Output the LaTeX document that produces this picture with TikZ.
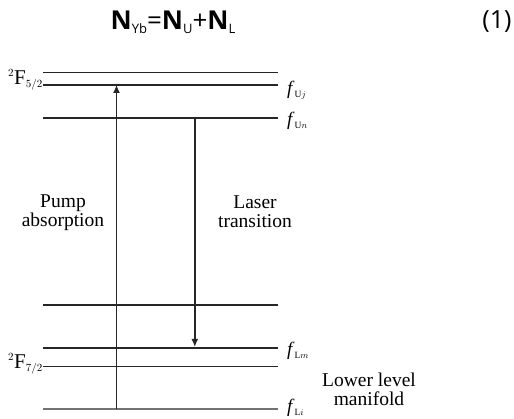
\documentclass[tikz,border=0pt]{standalone}
\usepackage{fontspec}
\setmainfont{Liberation Serif}
\newfontfamily\eqfont{Open Sans}
\usetikzlibrary{arrows.meta}
\tikzset{
  lvthin/.style={line width=1.1pt, draw=black!85},
  lvthick/.style={line width=2pt, draw=black!85},
  lvgray/.style={line width=2pt, draw=black!55},
  pumparrow/.style={line width=1.1pt, draw=black!85, -{Latex[length=8pt,width=7pt]}},
  laserarrow/.style={line width=1.6pt, draw=black!85, -{Latex[length=8pt,width=7pt]}},
  lbl/.style={font=\fontsize{19.5}{19}\selectfont, align=center, inner sep=0pt},
  flbl/.style={font=\fontsize{19}{20}\selectfont, anchor=west, inner sep=0pt},
}
\begin{document}
\begin{tikzpicture}[x=1pt,y=-1pt]
\useasboundingbox (0,0) rectangle (514,419);
% equation
\node[inner sep=0pt, anchor=center] (eq) at (173,22) {\eqfont\fontsize{26}{27}\selectfont\textbf{N}{\fontsize{13}{14}\selectfont\raisebox{-4pt}{Yb}}=\textbf{N}{\fontsize{13}{14}\selectfont\raisebox{-4pt}{U}}+\textbf{N}{\fontsize{13}{14}\selectfont\raisebox{-4pt}{L}}};
\node[inner sep=0pt] (eqn) at (497,22) {\eqfont\fontsize{25}{27}\selectfont (1)};
% level end points
\foreach \n/\y in {a/72.5,b/85,c/118,d/305,e/348,f/366.5,g/409}{
  \coordinate (\n1) at (43,\y);
  \coordinate (\n2) at (278,\y);
}
\draw[lvthin] (a1) -- (a2);
\draw[lvthick] (b1) -- (b2);
\draw[lvthick] (c1) -- (c2);
\draw[lvthick] (d1) -- (d2);
\draw[lvthick] (e1) -- (e2);
\draw[lvthin] (f1) -- (f2);
\draw[lvgray] (g1) -- (g2);
% arrows
\coordinate (pb) at (116.5,409);
\coordinate (pt) at (116.5,85);
\coordinate (lt) at (194.8,118);
\coordinate (lb) at (194.8,347);
\draw[pumparrow] (pb) -- (pt);
\draw[laserarrow] (lt) -- (lb);
% labels
\node[lbl] (pump) at (63,213) {Pump\\absorption};
\node[lbl] (laser) at (255,212) {Laser\\transition};
\node[lbl] (lower) at (369,389) {Lower level\\manifold};
\node[inner sep=0pt, anchor=west] (F52) at (8,80) {\fontsize{21}{22}\selectfont$^{\scriptscriptstyle 2}$F$_{\scriptscriptstyle 5/2}$};
\node[inner sep=0pt, anchor=west] (F72) at (8,364) {\fontsize{21}{22}\selectfont$^{\scriptscriptstyle 2}$F$_{\scriptscriptstyle 7/2}$};
\node[flbl] (fUj) at (287,90) {\textit{f}$_{\scriptscriptstyle\mathrm{U}j}$};
\node[flbl] (fUn) at (287,121) {\textit{f}$_{\scriptscriptstyle\mathrm{U}n}$};
\node[flbl] (fLm) at (287,351) {\textit{f}$_{\scriptscriptstyle\mathrm{L}m}$};
\node[flbl] (fLi) at (287,408) {\textit{f}$_{\scriptscriptstyle\mathrm{L}i}$};
\end{tikzpicture}
\end{document}
